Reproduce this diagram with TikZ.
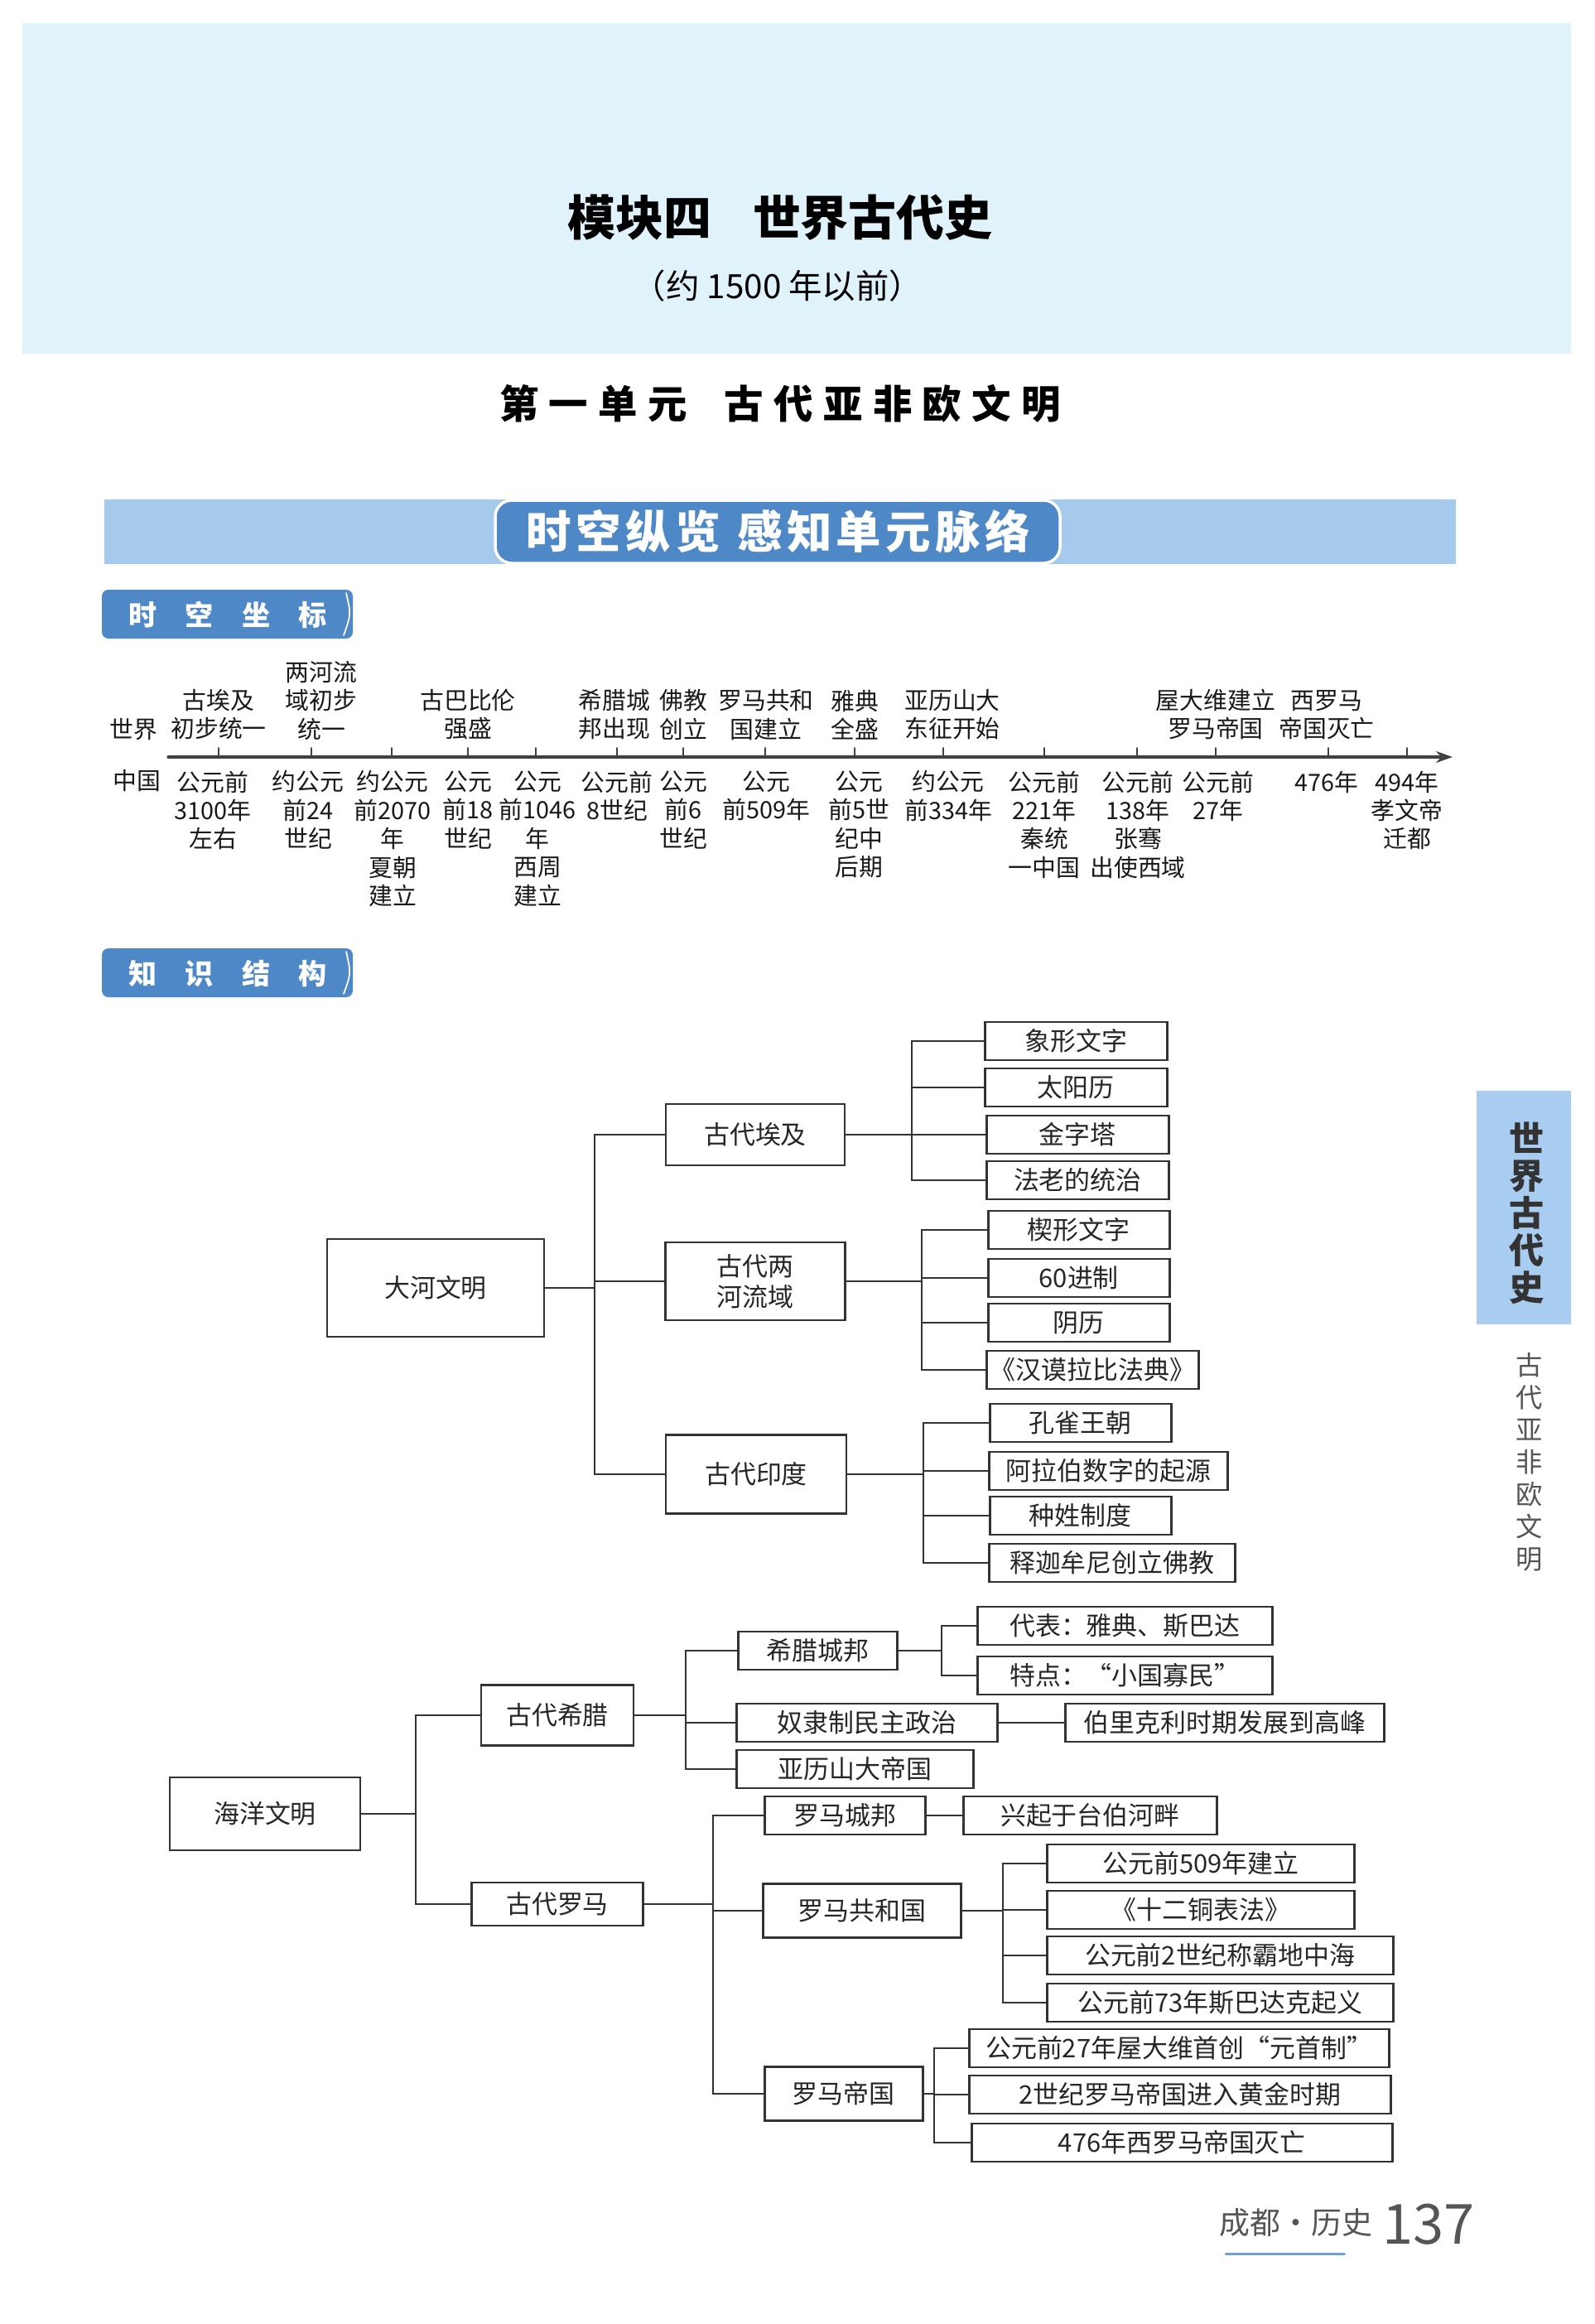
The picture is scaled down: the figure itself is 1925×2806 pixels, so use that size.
\documentclass[tikz,border=0pt]{standalone}
\usepackage{fontspec}
\setmainfont{Noto Sans CJK SC}
\usepackage{tikz}
\usetikzlibrary{arrows.meta}
\definecolor{panelblue}{HTML}{E0F3FB}
\definecolor{barblue}{HTML}{A6CAEB}
\definecolor{deepblue}{HTML}{4E88C6}
\definecolor{tabblue}{HTML}{A8CDF0}
\definecolor{inkgray}{HTML}{555555}
\newcommand{\tlfont}{\fontsize{8.2}{9.8}\selectfont}
\newcommand{\trfont}{\fontsize{8.8}{10.5}\selectfont}

\begin{document}
\begin{tikzpicture}[x=0.1mm, y=-0.1mm, line cap=round,
    box/.style={draw=black!80, line width=0.75pt, inner sep=0pt, align=center,
                font=\trfont, text=black!85},
    leaf/.style={box, anchor=west, minimum height=4.6mm},
    link/.style={line width=0.6pt, black!80},
    toplab/.style={anchor=south, align=center, inner sep=0pt, font=\tlfont, text=black!90},
    botlab/.style={anchor=north, align=center, inner sep=0pt, font=\tlfont, text=black!90},
    tag/.style={text=white, inner sep=0pt,
                font={\fontsize{9.7}{11}\selectfont\bfseries\addfontfeatures{LetterSpace=100}}}]

  \useasboundingbox (0,0) rectangle (1925,2806);
  \fill[white] (0,0) rectangle (1925,2806);

  % ---- module head: pale panel with the titles -----------------------------
  \fill[panelblue] (27,28) rectangle (1897,427);
  \node[font=\fontsize{16.5}{18}\selectfont\bfseries] (title) at (942,263)
    {模块四\hspace{5mm}世界古代史};
  \node[font=\fontsize{11.5}{13}\selectfont] (subtitle) at (939,345) {（约 1500 年以前）};
  \node[font={\fontsize{13.5}{15}\selectfont\bfseries\addfontfeatures{LetterSpace=26}}] (unit)
    at (942,487) {第一单元\hspace{4.5mm}古代亚非欧文明};

  % ---- banner bar ----------------------------------------------------------
  \fill[barblue] (126,603) rectangle (1758,681);
  \draw[white, line width=1pt, fill=deepblue, rounded corners=2mm] (598,604) rectangle (1280,680);
  \node[text=white, font={\fontsize{15.5}{17}\selectfont\bfseries\addfontfeatures{LetterSpace=10}}]
    (banner) at (940,642) {时空纵览\hspace{2mm}感知单元脉络};

  % ---- section tags --------------------------------------------------------
  \foreach \y in {712,1145}{
    \fill[deepblue, rounded corners=0.8mm] (123,\y) rectangle (426,\y+59);
    \draw[white, line width=0.5pt] (418,\y+4) .. controls (424,\y+30) .. (415,\y+55);}
  \node[tag] (tagA) at (275,742) {时空坐标};
  \node[tag] (tagB) at (275,1175) {知识结构};

  % ---- time line -----------------------------------------------------------
  \coordinate (ax0) at (203,914);
  \coordinate (ax1) at (1754,914);
  \draw[line width=0.9pt, black!75, -{Stealth[length=2mm, width=1.4mm]}] (ax0) -- (ax1);
  \foreach \x in {264,376,473,565,647,745,825,924,1032,1139,1261,1373,1468,1604,1699}{
    \draw[line width=0.5pt, black!75] (\x,914) -- (\x,903);}
  \node[font=\tlfont, text=black!90] (world) at (161,881) {世界};
  \node[font=\tlfont, text=black!90] (china) at (165,943) {中国};

  \foreach \x/\txt in {264/古埃及\\初步统一, 388/两河流\\域初步\\统一, 565/古巴比伦\\强盛,
                       742/希腊城\\邦出现, 825/佛教\\创立, 925/罗马共和\\国建立,
                       1032/雅典\\全盛, 1150/亚历山大\\东征开始,
                       1468/屋大维建立\\罗马帝国, 1602/西罗马\\帝国灭亡}{
    \node[toplab] (w\x) at (\x,894) {\txt};}

  \foreach \x/\txt in {257/公元前\\3100年\\左右, 372/约公元\\前24\\世纪,
                       474/约公元\\前2070\\年\\夏朝\\建立, 565/公元\\前18\\世纪,
                       649/公元\\前1046\\年\\西周\\建立, 745/公元前\\8世纪,
                       825/公元\\前6\\世纪, 925/公元\\前509年,
                       1037/公元\\前5世\\纪中\\后期, 1145/约公元\\前334年,
                       1261/公元前\\221年\\秦统\\一中国, 1374/公元前\\138年\\张骞\\出使西域,
                       1471/公元前\\27年, 1602/476年, 1699/494年\\孝文帝\\迁都}{
    \node[botlab] (c\x) at (\x,930) {\txt};}

  % ---- knowledge tree: river civilisations ---------------------------------
  \node[box, minimum width=26.2mm, minimum height=11.8mm] (dahe) at (526,1555) {大河文明};
  \node[box, minimum width=21.6mm, minimum height=7.4mm] (aiji) at (912,1370) {古代埃及};
  \node[box, minimum width=21.7mm, minimum height=9.4mm] (lianghe) at (912,1547) {古代两\\河流域};
  \node[box, minimum width=21.8mm, minimum height=9.5mm] (yindu) at (913,1780) {古代印度};

  \foreach \n/\x/\y/\w/\txt in {e1/1188/1257/22.0/象形文字, e2/1188/1313/22.0/太阳历,
                                e3/1190/1370/22.0/金字塔, e4/1190/1425/22.0/法老的统治,
                                m1/1192/1485/21.9/楔形文字, m2/1192/1543/21.9/60进制,
                                m3/1192/1597/21.9/阴历, m4/1190/1654/25.6/《汉谟拉比法典》,
                                i1/1194/1718/21.9/孔雀王朝, i2/1193/1776/28.8/阿拉伯数字的起源,
                                i3/1194/1830/21.9/种姓制度, i4/1193/1887/29.7/释迦牟尼创立佛教}{
    \node[leaf, minimum width=\w mm] (\n) at (\x,\y) {\txt};}

  % ---- knowledge tree: sea civilisations -----------------------------------
  \node[box, minimum width=23.0mm, minimum height=8.8mm] (haiyang) at (320,2190) {海洋文明};
  \node[box, minimum width=18.4mm, minimum height=7.3mm] (xila) at (673,2071) {古代希腊};
  \node[box, minimum width=20.7mm, minimum height=5.2mm] (luoma) at (673,2299) {古代罗马};
  \node[leaf, minimum width=23.9mm, minimum height=6.5mm] (r2) at (920,2307) {罗马共和国};
  \node[leaf, minimum width=19.1mm, minimum height=6.5mm] (r3) at (922,2528) {罗马帝国};

  \foreach \n/\x/\y/\w/\txt in {g1/890/1993/19.2/希腊城邦, g2/888/2080/31.5/奴隶制民主政治,
                                g3/888/2136/28.6/亚历山大帝国,
                                g11/1179/1963/35.6/代表：雅典、斯巴达,
                                g12/1179/2023/35.6/特点：“小国寡民”,
                                g21/1285/2080/38.5/伯里克利时期发展到高峰,
                                r1/922/2192/19.4/罗马城邦, r11/1162/2192/30.6/兴起于台伯河畔,
                                r21/1263/2250/37.1/公元前509年建立, r22/1263/2306/37.1/《十二铜表法》,
                                r23/1263/2361/41.8/公元前2世纪称霸地中海,
                                r24/1263/2418/41.8/公元前73年斯巴达克起义,
                                r31/1169/2473/50.7/公元前27年屋大维首创“元首制”,
                                r32/1169/2529/50.9/2世纪罗马帝国进入黄金时期,
                                r33/1172/2587/50.8/476年西罗马帝国灭亡}{
    \node[leaf, minimum width=\w mm] (\n) at (\x,\y) {\txt};}

  % ---- brackets: parent / x of the bracket / children ----------------------
  \foreach \p/\bx/\kids in {dahe/718/{aiji,lianghe,yindu}, aiji/1101/{e1,e2,e3,e4},
                            lianghe/1113/{m1,m2,m3,m4}, yindu/1115/{i1,i2,i3,i4},
                            haiyang/502/{xila,luoma}, xila/828/{g1,g2,g3},
                            g1/1137/{g11,g12}, g2/1244/{g21}, luoma/861/{r1,r2,r3},
                            r1/1139/{r11}, r2/1211/{r21,r22,r23,r24}, r3/1128/{r31,r32,r33}}{
    \draw[link] (\p.east) -- (\p.east -| \bx,0);
    \foreach \k in \kids
      \draw[link] (\k.west) -| (\p.east -| \bx,0);}

  % ---- side tab ------------------------------------------------------------
  \fill[tabblue] (1783,1317) rectangle (1897,1599);
  \node[align=center, inner sep=0pt, text=black!80, font=\fontsize{12}{12.8}\selectfont\bfseries]
    (tab) at (1844,1465) {世\\界\\古\\代\\史};
  \node[align=center, inner sep=0pt, text=inkgray, font=\fontsize{9.2}{11.1}\selectfont]
    (tabsub) at (1847,1765) {古\\代\\亚\\非\\欧\\文\\明};

  % ---- footer --------------------------------------------------------------
  \node[text=inkgray, font=\fontsize{10.5}{12}\selectfont] (city) at (1565,2684) {成都·历史};
  \draw[deepblue!80, line width=1pt] (city.south west) ++(20,8) -- ++(143,0);
  \node[text=inkgray, font=\fontsize{19}{21}\selectfont] (pagenum) at (1725,2686) {137};
\end{tikzpicture}
\end{document}
